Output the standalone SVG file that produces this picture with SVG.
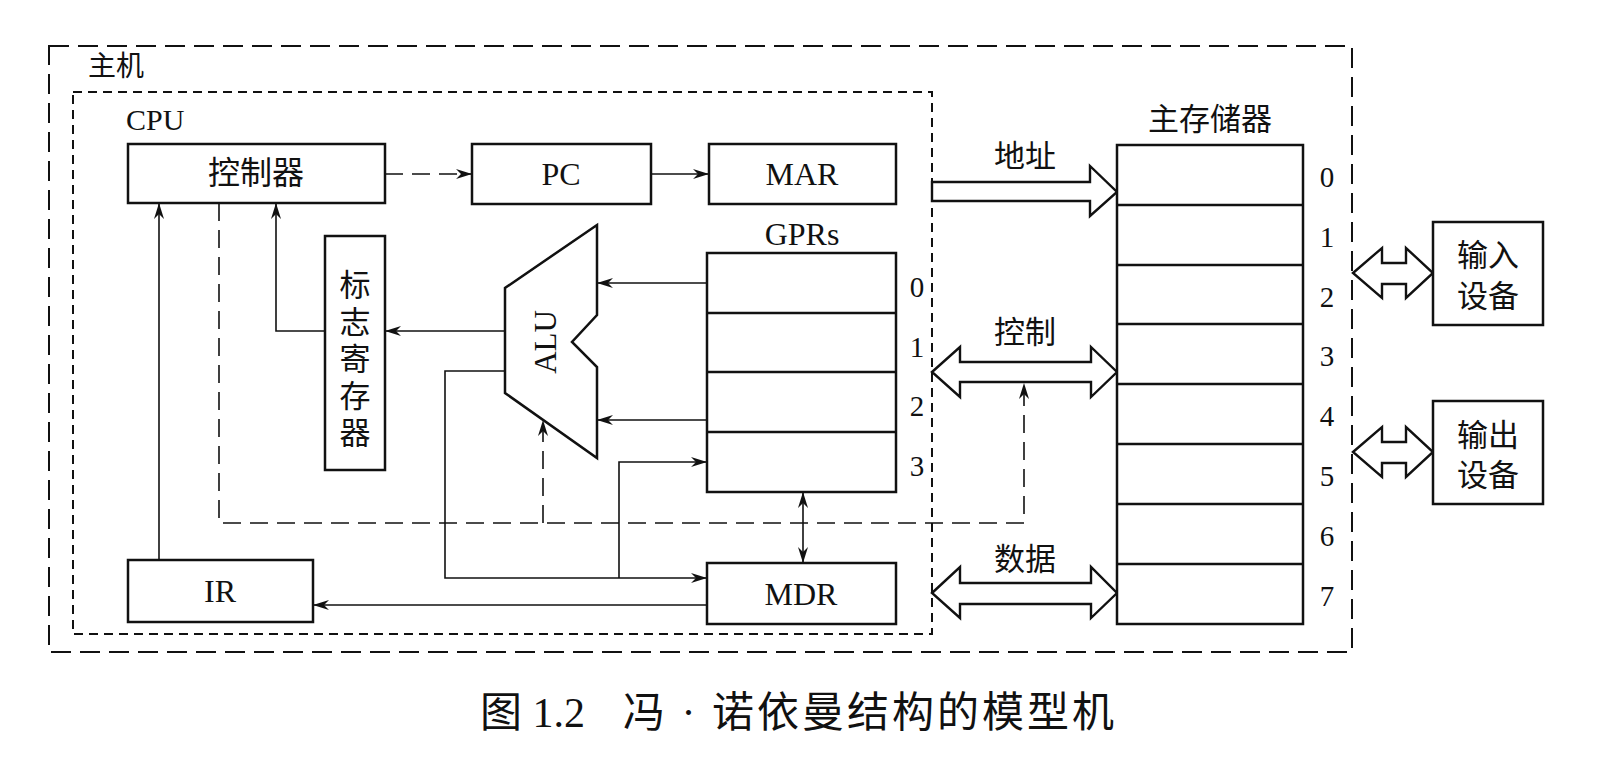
<svg xmlns="http://www.w3.org/2000/svg" width="1602" height="772" viewBox="0 0 1602 772">
<style>
.box{fill:#fff;stroke:#111;stroke-width:2.5}
.ln{fill:none;stroke:#111;stroke-width:1.6}
.dl{fill:none;stroke:#111;stroke-width:1.6;stroke-dasharray:18 9}
.bus{fill:#fff;stroke:#111;stroke-width:2.4;stroke-linejoin:miter}
.cn{font-family:"Liberation Serif","Noto Sans CJK SC",serif;fill:#111;text-anchor:middle;dominant-baseline:central}
.en{font-family:"Liberation Serif",serif;fill:#111;text-anchor:middle;dominant-baseline:central}
</style>
<defs>
<marker id="ah" viewBox="0 0 16 10" refX="16" refY="5" markerWidth="16" markerHeight="10" markerUnits="userSpaceOnUse" orient="auto-start-reverse">
<path d="M0,0 L16,5 L0,10 L5,5 z" fill="#111"/>
</marker>
</defs>
<rect x="49" y="46" width="1303" height="606" fill="none" stroke="#111" stroke-width="2" stroke-dasharray="20 9"/>
<rect x="73" y="92" width="859" height="542" fill="none" stroke="#111" stroke-width="2" stroke-dasharray="9 6"/>
<text class="cn" x="88" y="66" font-size="28" style="text-anchor:start">主机</text>
<text class="en" x="126" y="119" font-size="30" style="text-anchor:start">CPU</text>
<g id="connectors">
<line class="dl" x1="385" y1="174" x2="472" y2="174" marker-end="url(#ah)"/>
<line class="ln" x1="651" y1="174" x2="709" y2="174" marker-end="url(#ah)"/>
<line class="ln" x1="707" y1="283" x2="597" y2="283" marker-end="url(#ah)"/>
<line class="ln" x1="707" y1="420" x2="597" y2="420" marker-end="url(#ah)"/>
<line class="ln" x1="505" y1="331" x2="385" y2="331" marker-end="url(#ah)"/>
<polyline class="ln" points="325,331 276,331 276,203" marker-end="url(#ah)"/>
<line class="ln" x1="159" y1="560" x2="159" y2="203" marker-end="url(#ah)"/>
<polyline class="ln" points="505,371 445,371 445,578 707,578" marker-end="url(#ah)"/>
<polyline class="ln" points="619,578 619,462 707,462" marker-end="url(#ah)"/>
<line class="ln" x1="707" y1="605" x2="313" y2="605" marker-end="url(#ah)"/>
<line class="ln" x1="803" y1="492" x2="803" y2="563" marker-start="url(#ah)" marker-end="url(#ah)"/>
<polyline class="dl" points="219,203 219,523 1024,523 1024,383" marker-end="url(#ah)"/>
<line class="dl" x1="543" y1="523" x2="543" y2="420" marker-end="url(#ah)"/>
<polygon class="bus" points="932,182 1090,182 1090,166 1117,192 1090,216 1090,201 932,201"/>
<polygon class="bus" points="932,372 960,347 960,362 1091,362 1091,347 1117,372 1091,397 1091,382 960,382 960,397"/>
<polygon class="bus" points="932,593 960,567 960,583 1091,583 1091,567 1117,593 1091,618 1091,604 960,604 960,618"/>
<polygon class="bus" points="1353,273 1382,248 1382,263 1406,263 1406,248 1433,273 1406,298 1406,284 1382,284 1382,298"/>
<polygon class="bus" points="1353,452 1382,427 1382,442 1406,442 1406,427 1433,452 1406,477 1406,463 1382,463 1382,477"/>
</g>
<text class="cn" x="1025" y="156" font-size="31">地址</text>
<text class="cn" x="1025" y="332" font-size="31">控制</text>
<text class="cn" x="1025" y="559" font-size="31">数据</text>
<g id="controller">
<rect class="box" x="128" y="144" width="257" height="59"/>
<text class="cn" x="256" y="173" font-size="32">控制器</text>
</g>
<g id="pc">
<rect class="box" x="472" y="144" width="179" height="60"/>
<text class="en" x="561" y="174" font-size="32">PC</text>
</g>
<g id="mar">
<rect class="box" x="709" y="144" width="187" height="60"/>
<text class="en" x="802" y="174" font-size="32">MAR</text>
</g>
<g id="flags">
<rect class="box" x="325" y="236" width="60" height="234"/>
<text class="cn" x="355" y="285" font-size="31">标</text>
<text class="cn" x="355" y="322" font-size="31">志</text>
<text class="cn" x="355" y="359" font-size="31">寄</text>
<text class="cn" x="355" y="396" font-size="31">存</text>
<text class="cn" x="355" y="433" font-size="31">器</text>
</g>
<g id="alu">
<polygon class="box" points="597,225 505,288 505,393 597,458 597,367 572,342 597,315"/>
<text class="en" x="545" y="342" font-size="31" transform="rotate(-90 545 342)">ALU</text>
</g>
<g id="gprs">
<text class="en" x="802" y="234" font-size="32">GPRs</text>
<rect class="box" x="707" y="253" width="189" height="239"/>
<line class="box" x1="707" y1="313" x2="896" y2="313"/>
<line class="box" x1="707" y1="372" x2="896" y2="372"/>
<line class="box" x1="707" y1="432" x2="896" y2="432"/>
<text class="en" x="917" y="287" font-size="29">0</text>
<text class="en" x="917" y="347" font-size="29">1</text>
<text class="en" x="917" y="406" font-size="29">2</text>
<text class="en" x="917" y="466" font-size="29">3</text>
</g>
<g id="ir">
<rect class="box" x="128" y="560" width="185" height="62"/>
<text class="en" x="220" y="591" font-size="32">IR</text>
</g>
<g id="mdr">
<rect class="box" x="707" y="563" width="189" height="61"/>
<text class="en" x="801" y="594" font-size="32">MDR</text>
</g>
<g id="memory">
<text class="cn" x="1210" y="119" font-size="31">主存储器</text>
<rect class="box" x="1117" y="145" width="186" height="479"/>
<line class="box" x1="1117" y1="205" x2="1303" y2="205"/>
<line class="box" x1="1117" y1="265" x2="1303" y2="265"/>
<line class="box" x1="1117" y1="324" x2="1303" y2="324"/>
<line class="box" x1="1117" y1="384" x2="1303" y2="384"/>
<line class="box" x1="1117" y1="444" x2="1303" y2="444"/>
<line class="box" x1="1117" y1="504" x2="1303" y2="504"/>
<line class="box" x1="1117" y1="564" x2="1303" y2="564"/>
<text class="en" x="1327" y="177" font-size="29">0</text>
<text class="en" x="1327" y="237" font-size="29">1</text>
<text class="en" x="1327" y="297" font-size="29">2</text>
<text class="en" x="1327" y="356" font-size="29">3</text>
<text class="en" x="1327" y="416" font-size="29">4</text>
<text class="en" x="1327" y="476" font-size="29">5</text>
<text class="en" x="1327" y="536" font-size="29">6</text>
<text class="en" x="1327" y="596" font-size="29">7</text>
</g>
<g id="input">
<rect class="box" x="1433" y="222" width="110" height="103"/>
<text class="cn" x="1488" y="255" font-size="31">输入</text>
<text class="cn" x="1488" y="296" font-size="31">设备</text>
</g>
<g id="output">
<rect class="box" x="1433" y="401" width="110" height="103"/>
<text class="cn" x="1488" y="435" font-size="31">输出</text>
<text class="cn" x="1488" y="475" font-size="31">设备</text>
</g>
<text class="cn" x="480" y="713" font-size="42" style="text-anchor:start">图 1.2</text>
<text class="cn" x="623" y="713" font-size="42" style="text-anchor:start" letter-spacing="3">冯 · 诺依曼结构的模型机</text>
</svg>
